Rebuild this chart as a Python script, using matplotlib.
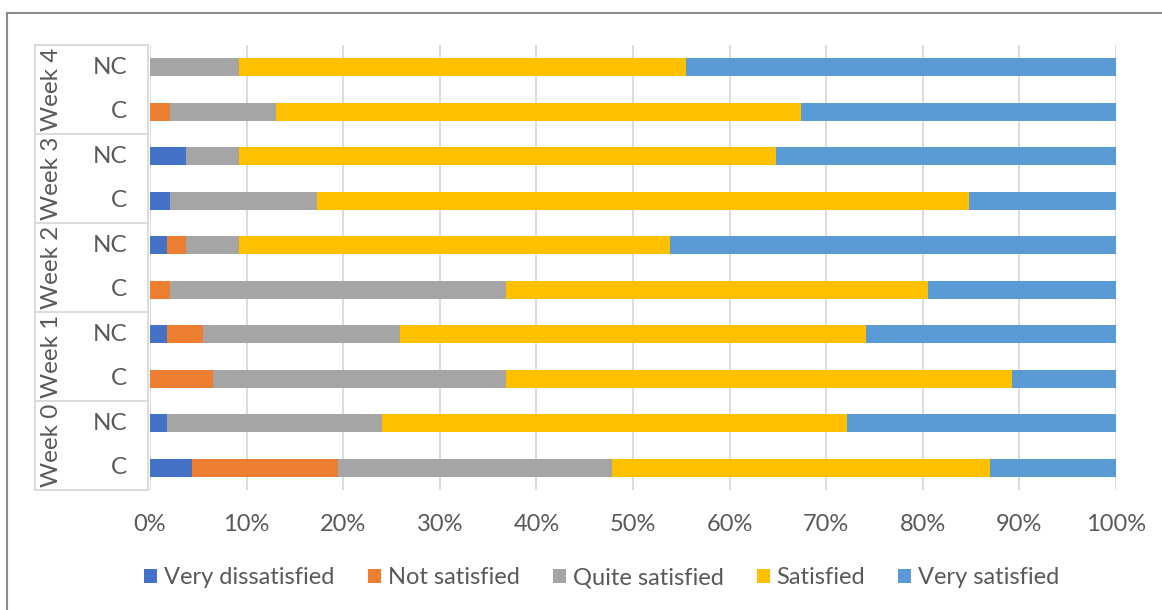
import numpy as np
import matplotlib.pyplot as plt
from matplotlib.patches import Patch
from matplotlib.lines import Line2D
import matplotlib.transforms as mtransforms

plt.rcParams['font.family'] = ['Lato', 'DejaVu Sans']

# rows from bottom to top
weeks = ['Week 0', 'Week 1', 'Week 2', 'Week 3', 'Week 4']
groups = ['C', 'NC']
series = ['Very dissatisfied', 'Not satisfied', 'Quite satisfied', 'Satisfied', 'Very satisfied']
colors = ['#4472C4', '#ED7D31', '#A5A5A5', '#FFC000', '#5B9BD5']

# percentages, order: W0 C, W0 NC, W1 C, W1 NC, ... W4 NC
very_dissatisfied = [4.3, 1.8, 0.0, 1.8, 0.0, 1.8, 2.1, 3.7, 0.0, 0.0]
not_satisfied     = [15.2, 0.0, 6.5, 3.7, 2.1, 1.9, 0.0, 0.0, 2.1, 0.0]
quite_satisfied   = [28.3, 22.2, 30.4, 20.4, 34.8, 5.5, 15.2, 5.5, 10.9, 9.2]
satisfied         = [39.2, 48.2, 52.3, 48.2, 43.6, 44.6, 67.5, 55.6, 54.4, 46.3]
very_satisfied    = [13.0, 27.8, 10.8, 25.9, 19.5, 46.2, 15.2, 35.2, 32.6, 44.5]

data = [very_dissatisfied, not_satisfied, quite_satisfied, satisfied, very_satisfied]

W, H = 1162, 610
fig = plt.figure(figsize=(W / 100, H / 100), dpi=100)
ax = fig.add_axes([150 / W, 1 - 490 / H, 966 / W, 445 / H])

y = np.arange(len(very_dissatisfied))
left = np.zeros(len(y))
for vals, name, col in zip(data, series, colors):
    vals = np.array(vals)
    ax.barh(y, vals, left=left, height=0.4, color=col, label=name)
    left += vals

ax.set_xlim(0, 100)
ax.set_ylim(-0.5, len(y) - 0.5)
ax.set_xticks(np.arange(0, 101, 10))
ax.set_xticklabels([f'{v}%' for v in range(0, 101, 10)])
ax.tick_params(axis='x', length=0, pad=17, labelsize=17, labelcolor='#595959')
ax.set_yticks([])
for s in ax.spines.values():
    s.set_visible(False)
ax.grid(axis='x', color='#D9D9D9', linewidth=1.3)
ax.set_axisbelow(True)

# category table on the left
tr = mtransforms.blended_transform_factory(ax.transAxes, ax.transData)
x_left = (35 - 150) / 966
x_right = (148 - 150) / 966
line_kw = dict(color='#D9D9D9', linewidth=1.3, transform=tr, clip_on=False)
for b in np.arange(-0.5, len(y), 2):
    ax.add_line(Line2D([x_left, x_right], [b, b], **line_kw))
ax.add_line(Line2D([x_left, x_left], [-0.5, len(y) - 0.5], **line_kw))
ax.add_line(Line2D([x_right, x_right], [-0.5, len(y) - 0.5], **line_kw))

for i in y:
    ax.text((127 - 150) / 966, i, groups[i % 2], transform=tr, ha='right', va='center',
            fontsize=17.5, color='#595959')
for k, wk in enumerate(weeks):
    ax.text((52 - 150) / 966, 2 * k + 0.5, wk, transform=tr, ha='center', va='center',
            rotation=90, fontsize=17.5, color='#595959')

# legend
handles = [Patch(facecolor=c, edgecolor='none') for c in colors]
fig.legend(handles, series, loc='center', bbox_to_anchor=(0.518, 1 - 578 / H), ncol=5,
           frameon=False, fontsize=17, labelcolor='#595959', handlelength=0.55,
           handleheight=0.55, handletextpad=0.3, columnspacing=1.4)

# outer frame
fig.add_artist(Line2D([7 / W, 1], [1 - 13 / H, 1 - 13 / H], color='#8C8C8C', linewidth=1.5,
                      transform=fig.transFigure))
fig.add_artist(Line2D([7 / W, 7 / W], [0, 1 - 13 / H], color='#8C8C8C', linewidth=1.5,
                      transform=fig.transFigure))

fig.savefig('out.png', dpi=100)
